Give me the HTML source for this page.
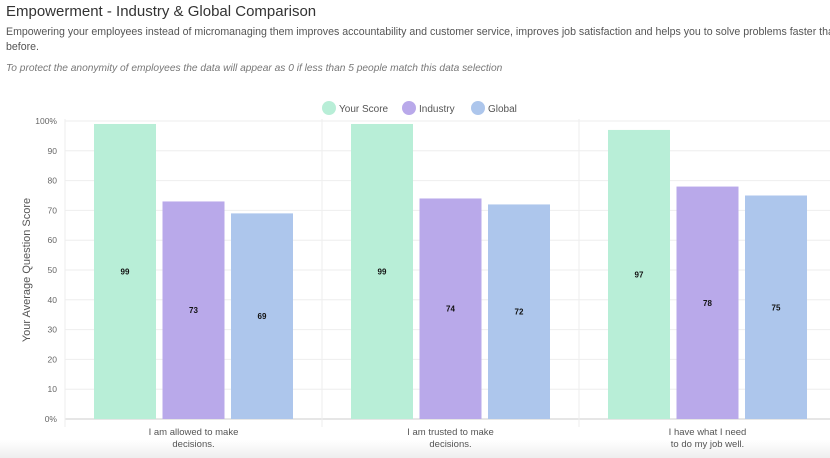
<!DOCTYPE html>
<html><head><meta charset="utf-8"><style>
body{margin:0;width:830px;height:458px;overflow:hidden;background:#fff;font-family:"Liberation Sans",sans-serif;position:relative}
.t{position:absolute;left:6px;top:3px;font-size:15px;color:#333}
.d{position:absolute;left:6px;top:25px;font-size:10.6px;color:#555;line-height:15px;white-space:nowrap}
.n{position:absolute;left:6px;top:63px;font-size:10.2px;color:#777;font-style:italic;white-space:nowrap}
.foot{position:absolute;left:0;top:440px;width:830px;height:18px;background:linear-gradient(#fff,#eee)}
svg{position:absolute;left:0;top:0}
</style></head><body>
<div class="t">Empowerment - Industry &amp; Global Comparison</div>
<div class="d">Empowering your employees instead of micromanaging them improves accountability and customer service, improves job satisfaction and helps you to solve problems faster than<br>before.</div>
<div class="n">To protect the anonymity of employees the data will appear as 0 if less than 5 people match this data selection</div>
<div class="foot"></div>
<svg id="c" width="830" height="458"></svg>
<script>
const categories=[["I am allowed to make","decisions."],["I am trusted to make","decisions."],["I have what I need","to do my job well."]];
const seriesNames=["Your Score","Industry","Global"];
const yourScore=[99,99,97];
const industry=[73,74,78];
const global=[69,72,75];
const yTicks=[0,10,20,30,40,50,60,70,80,90,100];
const colors=["#b8eed7","#b9a9ea","#adc6ec"];
const svg=document.getElementById('c');
const NS="http://www.w3.org/2000/svg";
const x0=65,x1=836,y0=419,y1=121;
const cw=(x1-x0)/categories.length;
function y(v){return y0-(v/100)*(y0-y1);}
function mk(t,a,p){const e=document.createElementNS(NS,t);for(const k in a)e.setAttribute(k,a[k]);(p||svg).appendChild(e);return e;}
yTicks.forEach(v=>{
 const l=mk('line',{x1:x0,x2:830,y1:y(v),y2:y(v),stroke:v===0?'#e6e6e6':'#eee','stroke-width':v===0?2:1});
 
 
 const t=mk('text',{x:57,y:y(v)+3,'text-anchor':'end','font-size':8.5,fill:'#666'});
 t.textContent=v===0||v===100?v+'%':v;
 
 
});
for(let i=0;i<categories.length;i++){
 const l=mk('line',{x1:x0+i*cw,x2:x0+i*cw,y1:y1-2,y2:y0+8,stroke:'#eee'});
 
 
}
const yl=mk('text',{x:30,y:270,transform:'rotate(-90 30 270)','text-anchor':'middle','font-size':11,fill:'#555'});
yl.textContent='Your Average Question Score';


const series=[yourScore,industry,global];
const bw=62,gap=6.5;
categories.forEach((c,i)=>{
 const cx=x0+i*cw+cw/2-(cw-(x1-x0)/categories.length)/2;
 const center=x0+i*257+128.5;
 series.forEach((s,j)=>{
  const bx=center-1.5*bw-gap+j*(bw+gap);
  const r=mk('rect',{x:bx,y:y(s[i]),width:bw,height:y0-y(s[i]),fill:colors[j]});
  
  
  const t=mk('text',{x:bx+bw/2,y:y(s[i]/2)+3,'text-anchor':'middle','font-size':8,'font-weight':'bold',fill:'#111'});
  t.textContent=s[i];
  
  
 });
 c.forEach((line,k)=>{
  const t=mk('text',{x:center,y:435+k*12,'text-anchor':'middle','font-size':9.5,fill:'#555'});
  t.textContent=line;
  
  
 });
});
const lx=[329,409,478];
seriesNames.forEach((n,j)=>{
 const g=mk('g',{});
 
 
 mk('circle',{cx:lx[j],cy:108,r:7,fill:colors[j]},g);
 const t=mk('text',{x:lx[j]+10,y:112,'font-size':10,fill:'#555'},g);
 t.textContent=n;
});
</script>
</body></html>
